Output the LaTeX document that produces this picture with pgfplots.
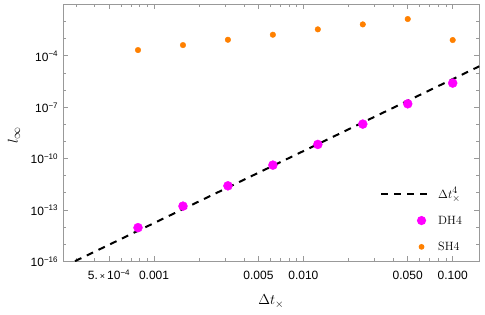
\documentclass[border=0pt]{standalone}
\usepackage{fontspec}
\usepackage{pgfplots}
\pgfplotsset{compat=1.18}
\newfontfamily\tickfont{Liberation Sans}
\definecolor{dhc}{RGB}{255,0,255}
\definecolor{shc}{RGB}{255,128,0}
\definecolor{framec}{gray}{0.6}
\newcommand{\tp}[1]{10\textsuperscript{−#1}}
\newcommand{\subx}[2]{\mbox{\fontsize{#1}{#1}\selectfont$#2$}}
\newcommand{\lf}{\fontsize{12}{14}\selectfont}

\pgfplotstableread{
x y
0.00078125 2.15e-4
0.0015625 4.2e-4
0.003125 8.6e-4
0.00625 1.69e-3
0.0125 3.49e-3
0.025 6.8e-3
0.05 1.40e-2
0.1 8.3e-4
}\shfour
\pgfplotstableread{
x y
0.00078125 9.1e-15
0.0015625 1.64e-13
0.003125 2.52e-12
0.00625 4.08e-11
0.0125 6.6e-10
0.025 1.02e-8
0.05 1.56e-7
0.1 2.53e-6
}\dhfour

\begin{document}
\begin{tikzpicture}
\begin{axis}[
 scale only axis, width=415.7pt, height=256.6pt,
 xmode=log, ymode=log,
 xmin=2.47e-4, xmax=0.1507, ymin=1e-16, ymax=1e-1,
 axis line style={framec, line width=0.8pt},
 tick style={framec, line width=0.6pt},
 tick align=inside,
 major tick length=5pt, minor tick length=3pt,
 xtick={5e-4,0.001,0.005,0.01,0.05,0.1},
 xticklabels={5.\,{\fontsize{9}{10}\selectfont×}\,\tp{4}, 0.001, 0.005, 0.010, 0.050, 0.100},
 minor xtick={3e-4,4e-4,6e-4,7e-4,8e-4,9e-4,0.002,0.003,0.004,0.006,0.007,0.008,0.009,0.02,0.03,0.04,0.06,0.07,0.08,0.09},
 ytick={1e-16,1e-13,1e-10,1e-7,1e-4},
 yticklabels={\tp{16},\tp{13},\tp{10},\tp{7},\tp{4}},
 minor ytick={1e-15,1e-14,1e-12,1e-11,1e-9,1e-8,1e-6,1e-5,1e-3,1e-2},
 ticklabel style={font=\tickfont\fontsize{12}{14}\selectfont, inner sep=0pt},
 xticklabel style={anchor=base, yshift=-18.3pt},
 yticklabel style={anchor=base east, xshift=-5pt, yshift=-5.3pt},
 xlabel={$\Delta t_{\subx{10.5}{\times}}$},
 ylabel={$l_{\subx{11.5}{\infty}}$},
 xlabel style={font=\fontsize{13.5}{15}\selectfont, at={(axis description cs:0.5,0)}, anchor=base, yshift=-43.7pt},
 ylabel style={font=\fontsize{14}{16}\selectfont, at={(axis description cs:-0.1186,0.49)}, anchor=center},
 legend style={at={(axis description cs:0.7618,0.2837)}, anchor=north west, draw=none, fill=none,
   inner sep=0pt, outer sep=0pt, row sep=14.5pt, column sep=8pt, font=\lf,
   nodes={inner sep=0pt, text height=10pt, text depth=1.8pt}},
 legend cell align=left,
 reverse legend,
]
\addplot[only marks, mark=*, mark size=2.8pt, color=shc, mark options={draw=none, fill=shc},
  legend image code/.code={\path[draw=none] (0pt,0pt) -- (48pt,0pt); \fill[shc, draw=none] (40.3pt,0pt) circle (2.9pt);}]
  table[x=x,y=y] {\shfour};
\addlegendentry{\lf SH4}
\addplot[only marks, mark=*, mark size=4.5pt, color=dhc, mark options={draw=none, fill=dhc},
  legend image code/.code={\path[draw=none] (0pt,0pt) -- (48pt,0pt); \fill[dhc, draw=none] (40.3pt,0pt) circle (4.6pt);}]
  table[x=x,y=y] {\dhfour};
\addlegendentry{\lf DH4}
\addplot[black, line width=2pt, dash pattern=on 7pt off 6pt,
  legend image code/.code={\draw[black, line width=2pt, dash pattern=on 7pt off 6pt] (0pt,0pt) -- (48pt,0pt);}]
  coordinates {(2.47e-4,4.7e-17) (0.1507,2.42e-5)};
\addlegendentry{\lf $\Delta t_{\subx{10}{\times}}^{\subx{10}{4}}$}
\end{axis}
\pgfresetboundingbox
\path[use as bounding box] ([shift={(-63.3pt,-53pt)}]current axis.south west) rectangle ([shift={(5.7pt,4.4pt)}]current axis.north east);
\end{tikzpicture}
\end{document}
